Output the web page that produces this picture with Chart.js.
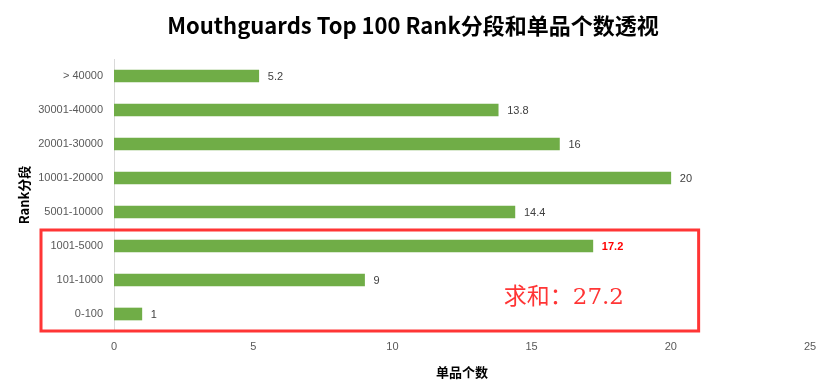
<!DOCTYPE html>
<html lang="zh-CN">
<head>
    <meta charset="UTF-8">
    <title>Mouthguards Top 100 Rank</title>
    <script src="https://cdn.jsdelivr.net/npm/chart.js"></script>
    <style>
        body { margin: 0; background: #fff; }
        #wrap { width: 828px; height: 392px; }
    </style>
</head>
<body>
<div id="wrap"><canvas id="grafico" width="828" height="392"></canvas></div>
<script>
    // dados (de cima para baixo)
    const faixas = ["> 40000", "30001-40000", "20001-30000", "10001-20000", "5001-10000", "1001-5000", "101-1000", "0-100"];
    const quantidades = [5.2, 13.8, 16, 20, 14.4, 17.2, 9, 1];
    const ticksX = [0, 5, 10, 15, 20, 25];
    const destaque = "1001-5000";
    const textoSoma = "求和：27.2";

    const titulo = "Mouthguards Top 100 Rank分段和单品个数透视";
    const fonteBase = "'Liberation Sans', 'Noto Sans CJK SC', sans-serif";
    const fonteCJK = "'Noto Sans CJK SC', 'Liberation Sans', sans-serif";

    const pluginExtras = {
        id: "extras",
        afterDraw(chart) {
            const ctx = chart.ctx;
            const x = chart.scales.x, y = chart.scales.y;
            const area = chart.chartArea;
            ctx.save();

            // título
            ctx.fillStyle = "#000";
            ctx.font = "bold 22px " + fonteCJK;
            ctx.textAlign = "center";
            ctx.textBaseline = "middle";
            ctx.fillText(titulo, 413, 26);

            // rótulos dos valores
            ctx.textAlign = "left";
            quantidades.forEach((v, i) => {
                const px = x.getPixelForValue(v) + 9;
                const py = y.getPixelForValue(i) + 1;
                if (faixas[i] === destaque) {
                    ctx.fillStyle = "#FF0000";
                    ctx.font = "bold 11px " + fonteBase;
                } else {
                    ctx.fillStyle = "#404040";
                    ctx.font = "11px " + fonteBase;
                }
                ctx.fillText(String(v), px, py);
            });

            // caixa vermelha
            const iTop = faixas.indexOf(destaque);
            const topo = (y.getPixelForValue(iTop - 1) + y.getPixelForValue(iTop)) / 2 + 1;
            ctx.strokeStyle = "#FF3535";
            ctx.lineWidth = 3;
            ctx.strokeRect(41, topo, x.getPixelForValue(21) - 41, area.bottom - topo);

            // soma
            ctx.fillStyle = "#FF3535";
            ctx.font = "23px 'DejaVu Serif', 'Noto Sans CJK SC', serif";
            ctx.textBaseline = "middle";
            ctx.fillText(textoSoma, x.getPixelForValue(14), (y.getPixelForValue(6) + y.getPixelForValue(7)) / 2 + 1);
            ctx.restore();
        }
    };

    new Chart(document.getElementById("grafico"), {
        type: "bar",
        data: {
            labels: faixas,
            datasets: [{
                label: "单品个数",
                data: quantidades,
                backgroundColor: "#70AD47",
                barThickness: 12
            }]
        },
        options: {
            indexAxis: "y",
            responsive: false,
            animation: false,
            layout: { padding: { top: 59, right: 18, left: 0, bottom: 0 } },
            plugins: {
                legend: { display: false },
                title: { display: false },
                tooltip: { enabled: false }
            },
            scales: {
                x: {
                    min: 0,
                    max: 25,
                    afterBuildTicks: s => { s.ticks = ticksX.map(v => ({ value: v })); },
                    grid: { display: false, drawTicks: false },
                    border: { display: false },
                    ticks: { color: "#595959", font: { size: 11, family: fonteBase }, padding: 9 },
                    title: { display: true, text: "单品个数", color: "#000", font: { size: 13, weight: "bold", family: fonteCJK }, padding: { top: 4, bottom: 12 } },
                    afterFit: s => { s.height = 61; }
                },
                y: {
                    grid: { display: false, drawTicks: false },
                    border: { display: true, color: "#D9D9D9" },
                    ticks: { color: "#595959", font: { size: 11, family: fonteBase }, padding: 11 },
                    title: { display: true, text: "Rank分段", color: "#000", font: { size: 13, weight: "bold", family: fonteCJK }, padding: { top: 16 } },
                    afterFit: s => { s.width = 114; }
                }
            }
        },
        plugins: [pluginExtras]
    });
</script>
</body>
</html>
